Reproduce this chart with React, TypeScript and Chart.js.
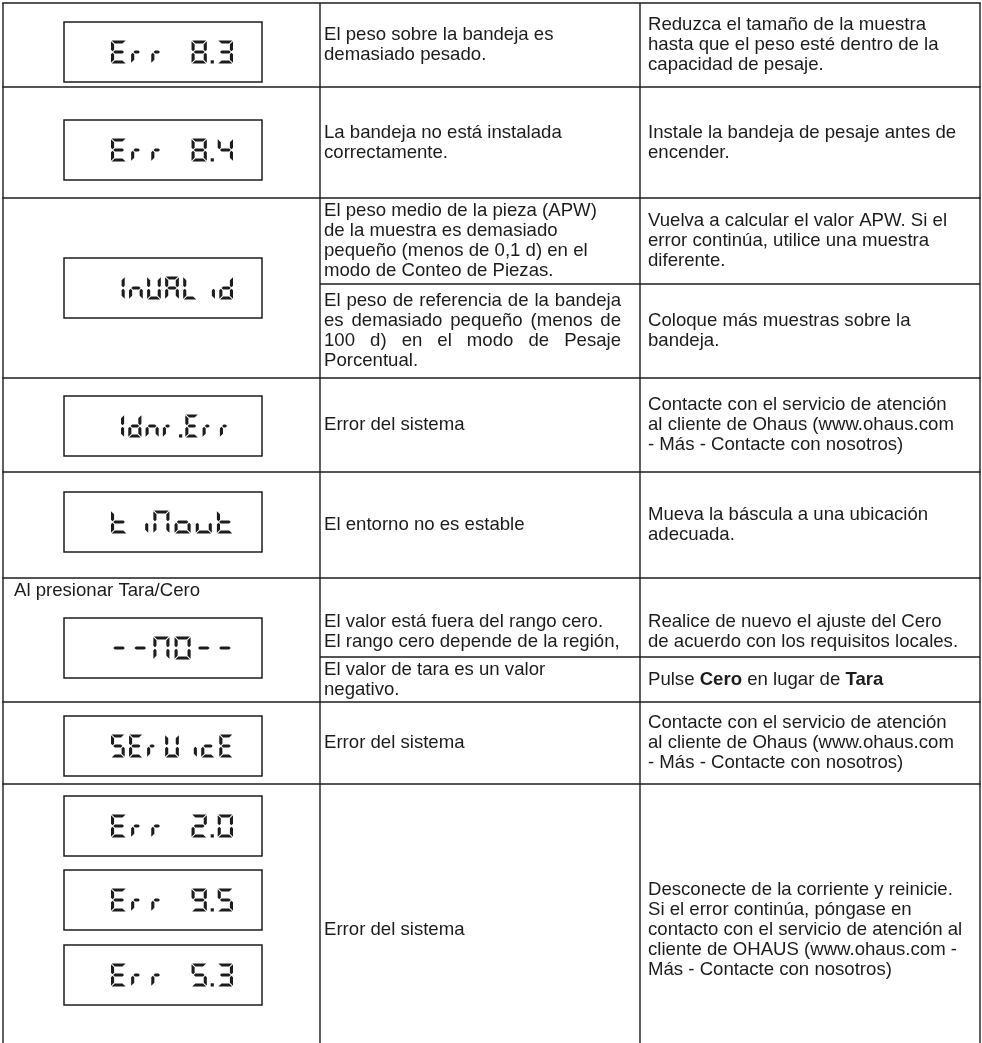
import React, { useEffect, useRef } from "react";
import { Chart, registerables } from "chart.js";

Chart.register(...registerables);

// ---------- DATA ----------
const displayCodes: string[][] = [
  ["Err 8.3"],
  ["Err 8.4"],
  ["InUALid"],
  ["1dnr.Err"],
  ["tiMout"],
  ["--NO--"],
  ["SErUicE"],
  ["Err 2.0", "Err 9.5", "Err 5.3"],
];

const rowNotes: string[] = ["", "", "", "", "", "Al presionar Tara/Cero", "", ""];

const causeTexts: string[][][] = [
  [["El peso sobre la bandeja es", "demasiado pesado."]],
  [["La bandeja no está instalada", "correctamente."]],
  [
    ["El peso medio de la pieza (APW)", "de la muestra es demasiado", "pequeño (menos de 0,1 d) en el", "modo de Conteo de Piezas."],
    ["El peso de referencia de la bandeja", "es demasiado pequeño (menos de", "100 d) en el modo de Pesaje", "Porcentual."],
  ],
  [["Error del sistema"]],
  [["El entorno no es estable"]],
  [
    ["El valor está fuera del rango cero.", "El rango cero depende de la región,"],
    ["El valor de tara es un valor", "negativo."],
  ],
  [["Error del sistema"]],
  [["Error del sistema"]],
];

const remedyTexts: string[][][] = [
  [["Reduzca el tamaño de la muestra", "hasta que el peso esté dentro de la", "capacidad de pesaje."]],
  [["Instale la bandeja de pesaje antes de", "encender."]],
  [
    ["Vuelva a calcular el valor APW. Si el", "error continúa, utilice una muestra", "diferente."],
    ["Coloque más muestras sobre la", "bandeja."],
  ],
  [["Contacte con el servicio de atención", "al cliente de Ohaus (www.ohaus.com", "- Más - Contacte con nosotros)"]],
  [["Mueva la báscula a una ubicación", "adecuada."]],
  [
    ["Realice de nuevo el ajuste del Cero", "de acuerdo con los requisitos locales."],
    ["Pulse **Cero** en lugar de **Tara**"],
  ],
  [["Contacte con el servicio de atención", "al cliente de Ohaus (www.ohaus.com", "- Más - Contacte con nosotros)"]],
  [[
    "Desconecte de la corriente y reinicie.",
    "Si el error continúa, póngase en",
    "contacto con el servicio de atención al",
    "cliente de OHAUS (www.ohaus.com -",
    "Más - Contacte con nosotros)",
  ]],
];

const justifiedCauseCells: string[] = ["2-1"];

// ---------- LAYOUT (page units) ----------
const PAGE_W = 982;
const PAGE_H = 1043;
const COL_EDGES = [3, 320, 640, 980];
const ROW_EDGES = [3, 87, 198, 378, 472, 578, 702, 784, 1076];
const SUB_SPLITS: (number | null)[] = [null, null, 284, null, null, 657, null, null];
const CENTER_OVERRIDES: Record<string, number> = { "5-0": 632 };
const BOX_TOPS: number[][] = [[22], [120], [258], [396], [492], [618], [716], [796, 870, 945]];
const BOX_H = 60;
const BOX_X = [64, 262];
const LCD_X = [111, 233];
const GLYPH_H = 23;
const SEG_T = 3.1;
const TEXT_PAD = [4, 8];
const LINE_H = 20;
const FONT_PX = 18.6;
const JUSTIFY_RIGHT = 621;
const NOTE_POS = [14, 591];
const INK = "#1c1c1c";
const FONT_FAMILY = '"Liberation Sans", Arial, Helvetica, sans-serif';

// seven-segment map
const SEGS: Record<string, string> = {
  E: "adefg", r: "eg", "8": "abcdefg", "3": "abcdg", "4": "bcfg", I: "bc", n: "ceg",
  U: "bcdef", A: "abcefg", L: "def", i: "c", d: "bcdeg", "1": "bc", t: "defg",
  M: "abcef", N: "abcef", o: "cdeg", u: "cde", "-": "g", O: "abcdef", "0": "abcdef",
  S: "acdfg", "5": "acdfg", c: "deg", "2": "abdeg", "9": "abcdfg", " ": "",
};
const NARROW: Record<string, number> = { r: 0.72 };

function poly(ctx: CanvasRenderingContext2D, pts: number[][]) {
  ctx.beginPath();
  ctx.moveTo(pts[0][0], pts[0][1]);
  for (let i = 1; i < pts.length; i++) ctx.lineTo(pts[i][0], pts[i][1]);
  ctx.closePath();
  ctx.fill();
}

function drawGlyph(ctx: CanvasRenderingContext2D, ch: string, x: number, y: number, w: number, hh: number) {
  const h = SEG_T / 2;
  const g = 0.7;
  const L = x + h, R = x + w - h, T = y + h, B = y + hh - h, M = (T + B) / 2;
  const segs = SEGS[ch] ?? "";
  for (const s of segs) {
    if (s === "a") poly(ctx, [[L - h + g, T - h], [R + h - g, T - h], [R - h - g, T + h], [L + h + g, T + h]]);
    if (s === "d") poly(ctx, [[L + h + g, B - h], [R - h - g, B - h], [R + h - g, B + h], [L - h + g, B + h]]);
    if (s === "g") poly(ctx, [[L + g, M], [L + h + g, M - h], [R - h - g, M - h], [R - g, M], [R - h - g, M + h], [L + h + g, M + h]]);
    if (s === "f") poly(ctx, [[L - h, T - h + g], [L + h, T + h + g], [L + h, M - h - g], [L, M - g], [L - h, M - h - g]]);
    if (s === "e") poly(ctx, [[L - h, B + h - g], [L + h, B - h - g], [L + h, M + h + g], [L, M + g], [L - h, M + h + g]]);
    if (s === "b") poly(ctx, [[R + h, T - h + g], [R - h, T + h + g], [R - h, M - h - g], [R, M - g], [R + h, M - h - g]]);
    if (s === "c") poly(ctx, [[R + h, B + h - g], [R - h, B - h - g], [R - h, M + h + g], [R, M + g], [R + h, M + h + g]]);
  }
}

function drawLCD(ctx: CanvasRenderingContext2D, text: string, x0: number, x1: number, yMid: number, h: number) {
  const cells: { ch: string; dot: boolean }[] = [];
  for (const ch of text) {
    if (ch === "." && cells.length) cells[cells.length - 1].dot = true;
    else cells.push({ ch, dot: false });
  }
  const n = cells.length;
  const dots = cells.filter((c) => c.dot).length;
  const DOT_EXTRA = 0.3;
  const GLYPH_FR = 0.76;
  const pitch = (x1 - x0) / (n - 1 + GLYPH_FR + dots * DOT_EXTRA);
  const gw = Math.min(pitch * GLYPH_FR, 17);
  ctx.fillStyle = INK;
  let cx = x0;
  cells.forEach((c) => {
    const w = gw * (NARROW[c.ch] ?? 1);
    drawGlyph(ctx, c.ch, cx, yMid - h / 2, w, h);
    let step = pitch;
    if (c.dot) {
      step += pitch * DOT_EXTRA;
      const gapMid = (cx + gw + cx + step) / 2;
      ctx.fillRect(gapMid - 1.6, yMid + h / 2 - 3.2, 3.2, 3.2);
    }
    cx += step;
  });
}

function drawRich(ctx: CanvasRenderingContext2D, line: string, x: number, y: number) {
  const parts = line.split("**");
  let cx = x;
  parts.forEach((p, i) => {
    ctx.font = `${i % 2 ? "bold " : ""}${FONT_PX}px ${FONT_FAMILY}`;
    ctx.fillText(p, cx, y);
    cx += ctx.measureText(p).width;
  });
  ctx.font = `${FONT_PX}px ${FONT_FAMILY}`;
}

function drawBlock(ctx: CanvasRenderingContext2D, lines: string[], x: number, center: number, justifyW: number | null) {
  const n = lines.length;
  const start = center - ((n - 1) * LINE_H) / 2;
  lines.forEach((ln, i) => {
    const y = start + i * LINE_H;
    if (justifyW && i < n - 1) {
      const words = ln.split(" ");
      const total = words.reduce((s, w) => s + ctx.measureText(w).width, 0);
      const gap = (justifyW - total) / (words.length - 1);
      let cx = x;
      words.forEach((w) => {
        ctx.fillText(w, cx, y);
        cx += ctx.measureText(w).width + gap;
      });
    } else {
      drawRich(ctx, ln, x, y);
    }
  });
}

const tablePlugin = {
  id: "tablePlugin",
  beforeDraw(chart: any) {
    const ctx: CanvasRenderingContext2D = chart.ctx;
    ctx.save();
    ctx.fillStyle = "#ffffff";
    ctx.fillRect(0, 0, chart.width, chart.height);
    ctx.restore();
  },
  afterDraw(chart: any) {
    const ctx: CanvasRenderingContext2D = chart.ctx;
    const xs = chart.scales.x;
    const ys = chart.scales.y;
    const px = (v: number) => xs.getPixelForValue(v);
    const py = (v: number) => ys.getPixelForValue(v);
    ctx.save();
    ctx.strokeStyle = INK;
    ctx.lineWidth = 1.4;
    const xl = px(COL_EDGES[0]);
    const xr = px(COL_EDGES[3]);
    ROW_EDGES.slice(0, -1).forEach((r) => {
      ctx.beginPath();
      ctx.moveTo(xl - 0.7, py(r));
      ctx.lineTo(xr + 0.7, py(r));
      ctx.stroke();
    });
    SUB_SPLITS.forEach((s) => {
      if (s == null) return;
      ctx.beginPath();
      ctx.moveTo(px(COL_EDGES[1]), py(s));
      ctx.lineTo(xr, py(s));
      ctx.stroke();
    });
    COL_EDGES.forEach((c) => {
      ctx.beginPath();
      ctx.moveTo(px(c), py(ROW_EDGES[0]));
      ctx.lineTo(px(c), py(PAGE_H));
      ctx.stroke();
    });

    displayCodes.forEach((codes, ri) => {
      codes.forEach((code, k) => {
        const top = BOX_TOPS[ri][k];
        ctx.lineWidth = 1.5;
        ctx.strokeStyle = INK;
        ctx.strokeRect(px(BOX_X[0]), py(top), px(BOX_X[1]) - px(BOX_X[0]), py(top + BOX_H) - py(top));
        drawLCD(ctx, code, px(LCD_X[0]), px(LCD_X[1]), py(top + BOX_H / 2), GLYPH_H);
      });
    });

    ctx.fillStyle = INK;
    ctx.textBaseline = "middle";
    ctx.textAlign = "left";
    ctx.font = `${FONT_PX}px ${FONT_FAMILY}`;
    rowNotes.forEach((note) => {
      if (note) ctx.fillText(note, px(NOTE_POS[0]), py(NOTE_POS[1]));
    });
    const cellCenters = (ri: number, nSub: number) => {
      const top = ROW_EDGES[ri];
      const bot = ROW_EDGES[ri + 1];
      const s = SUB_SPLITS[ri];
      const ranges = nSub === 2 && s != null ? [[top, s], [s, bot]] : [[top, bot]];
      return ranges.map((r, k) => CENTER_OVERRIDES[`${ri}-${k}`] ?? (r[0] + r[1]) / 2);
    };
    causeTexts.forEach((cells, ri) => {
      const centers = cellCenters(ri, cells.length);
      cells.forEach((lines, k) => {
        const j = justifiedCauseCells.includes(`${ri}-${k}`);
        const x = px(COL_EDGES[1] + TEXT_PAD[0]);
        const jw = j ? px(JUSTIFY_RIGHT) - x : null;
        drawBlock(ctx, lines, x, py(centers[k]), jw);
      });
    });
    remedyTexts.forEach((cells, ri) => {
      const centers = cellCenters(ri, cells.length);
      cells.forEach((lines, k) => {
        drawBlock(ctx, lines, px(COL_EDGES[2] + TEXT_PAD[1]), py(centers[k]), null);
      });
    });
    ctx.restore();
  },
};

export default function App() {
  const ref = useRef<HTMLCanvasElement | null>(null);
  useEffect(() => {
    if (!ref.current) return;
    const chart = new Chart(ref.current, {
      type: "scatter",
      data: { datasets: [{ data: [], pointRadius: 0 }] },
      options: {
        animation: false,
        responsive: false,
        devicePixelRatio: 1,
        layout: { padding: 0 },
        plugins: { legend: { display: false }, tooltip: { enabled: false } },
        scales: {
          x: { type: "linear", min: 0, max: PAGE_W, display: false },
          y: { type: "linear", min: 0, max: PAGE_H, reverse: true, display: false },
        },
      },
      plugins: [tablePlugin],
    });
    return () => chart.destroy();
  }, []);
  return (
    <div style={{ position: "absolute", left: 0, top: 0, width: PAGE_W, height: PAGE_H, background: "#fff" }}>
      <canvas ref={ref} width={PAGE_W} height={PAGE_H} style={{ display: "block", width: PAGE_W, height: PAGE_H }} />
    </div>
  );
}
